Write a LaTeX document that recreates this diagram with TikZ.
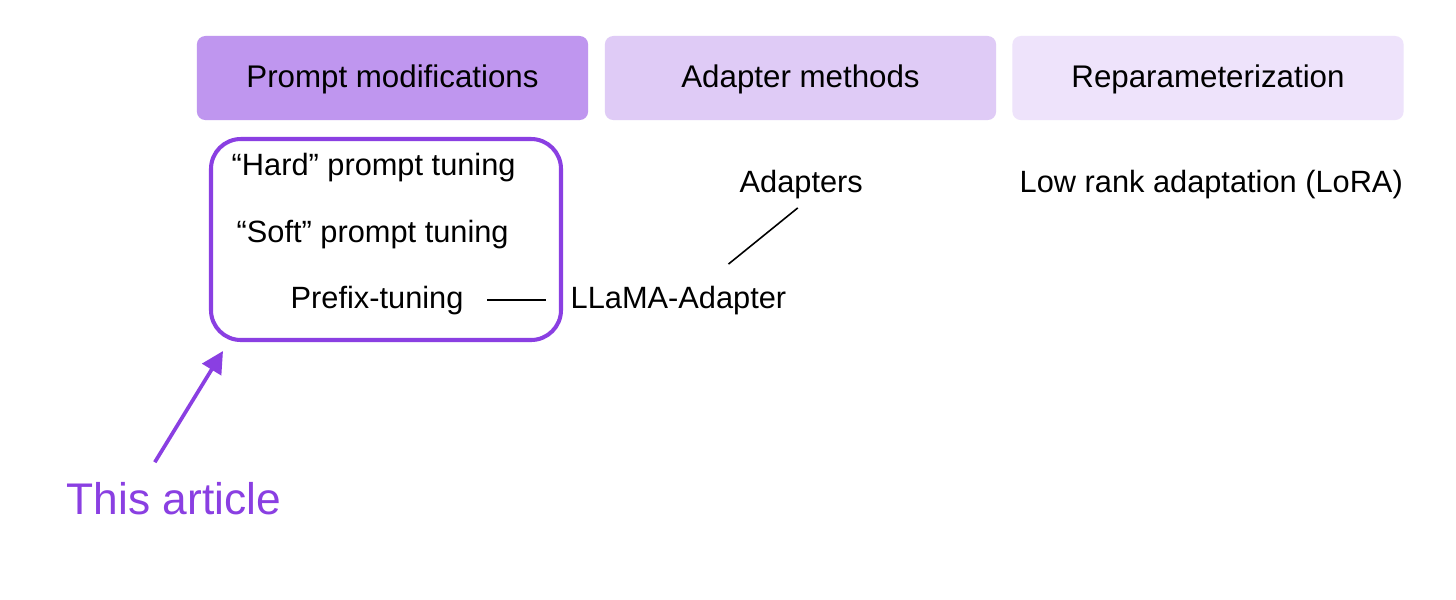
\documentclass[tikz,border=0pt]{standalone}
\usepackage{fontspec}
\setmainfont{Liberation Sans}
\usetikzlibrary{arrows.meta}
\definecolor{pmod}{HTML}{BF96EF}
\definecolor{amet}{HTML}{DFCBF6}
\definecolor{repar}{HTML}{EEE3FB}
\definecolor{vio}{HTML}{8A3FE2}
\begin{document}
\begin{tikzpicture}[x=0.01cm,y=-0.01cm,
  catbox/.style={rectangle,rounded corners=2.4pt,draw=none,minimum width=3.91cm,minimum height=0.84cm,
    font=\fontsize{8.9}{10}\selectfont,text=black,text height=6.6pt,text depth=1.4pt},
  item/.style={inner sep=0pt,anchor=base west,font=\fontsize{8.75}{10}\selectfont,text height=6.6pt,text depth=1.9pt},
  link/.style={draw=black,line width=0.45pt},
  article/.style={draw=vio,line width=1.15pt,rounded corners=8.5pt},
  pointer/.style={draw=vio,line width=1.05pt,-{Triangle[length=6.2pt,width=6.2pt]}}]
\useasboundingbox (0,0) rectangle (1456,599);
\fill[white] (0,0) rectangle (1456,599);
% category headers
\node[catbox,fill=pmod] (c1) at (392.5,78) {Prompt modifications};
\node[catbox,fill=amet] (c2) at (800.5,78) {Adapter methods};
\node[catbox,fill=repar] (c3) at (1208,78) {Reparameterization};
% highlighted group
\draw[article] (211,139) rectangle (561,340);
\node[item] (hard) at (231,175) {“Hard” prompt tuning};
\node[item] (soft) at (236,242) {“Soft” prompt tuning};
\node[item] (prefix) at (290,308) {Prefix-tuning};
\node[item] (llama) at (570,308) {LLaMA-Adapter};
\node[item] (adapters) at (739,192) {Adapters};
\node[item] (lora) at (1019,192) {Low rank adaptation (LoRA)};
\node[inner sep=0pt,anchor=base west,font=\fontsize{12.6}{14}\selectfont,text=vio] (this) at (66,514) {This article};
\coordinate (boxsw) at (211,340);
% connectors
\draw[link] ([xshift=0.23cm]prefix.east) -- ([xshift=-0.24cm]llama.west);
\draw[link] ([shift={(-3.5,8.5)}]adapters.south) -- ([shift={(50,-20)}]llama.north);
\draw[pointer] ([shift={(-19,-19)}]this.north) -- ([shift={(12,11)}]boxsw);
\end{tikzpicture}
\end{document}
